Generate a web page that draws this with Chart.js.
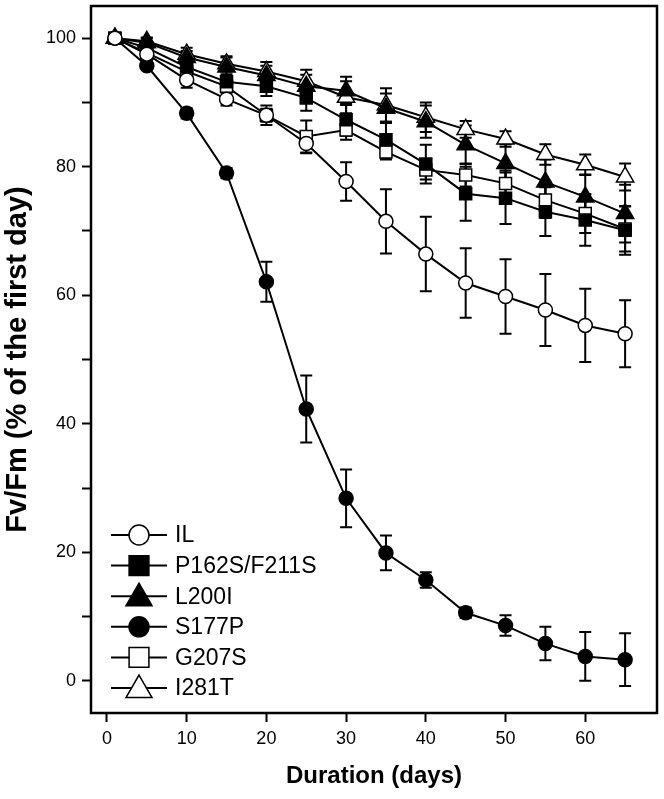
<!DOCTYPE html>
<html lang="en">
<head>
    <meta charset="UTF-8">
    <script src="https://cdn.jsdelivr.net/npm/chart.js"></script>
    <title>Fv/Fm</title>
    <style>
        body { margin: 0; background: #fff; }
        canvas { display: block; }
    </style>
</head>
<body>
    <canvas id="lineChart" width="664" height="799"></canvas>

    <script>
        // sampling days
        const days = [1, 5, 10, 15, 20, 25, 30, 35, 40, 45, 50, 55, 60, 65];

        // mean values (% of the first day) and error bars
        const ilMean = [100, 97.5, 93.5, 90.5, 88.0, 83.6, 77.7, 71.5, 66.4, 61.9, 59.8, 57.7, 55.3, 54.0];
        const ilErr  = [0, 1, 1.2, 1, 1, 1.5, 3, 5, 5.8, 5.4, 5.8, 5.6, 5.7, 5.2];

        const p162Mean = [100, 98.5, 95.5, 93.2, 92.5, 90.7, 87.3, 84.2, 80.4, 75.8, 75.1, 73.0, 71.7, 70.1];
        const p162Err  = [0, 0.8, 1, 1.2, 1.5, 2, 2.5, 2.8, 3, 4.2, 4, 3.8, 4, 3.8];

        const l200Mean = [100, 99.3, 97.0, 95.5, 94.2, 92.5, 91.8, 89.1, 87.0, 83.4, 80.5, 77.6, 75.3, 72.7];
        const l200Err  = [0, 0.8, 1, 1.5, 1.5, 1.8, 2.2, 2.3, 2.5, 3, 3, 3.5, 3.5, 4.5];

        const s177Mean = [100, 95.7, 88.3, 79.0, 62.1, 42.3, 28.4, 19.9, 15.7, 10.6, 8.6, 5.8, 3.8, 3.3];
        const s177Err  = [0, 0.5, 0.8, 0.8, 3.1, 5.2, 4.5, 2.7, 1.2, 0.8, 1.6, 2.6, 3.8, 4.1];

        const g207Mean = [100, 97.7, 94.8, 92.5, 88.0, 84.7, 85.7, 82.3, 79.5, 78.7, 77.4, 74.8, 72.7, 70.3];
        const g207Err  = [0, 1, 1.2, 1.5, 1.5, 2.5, 1.5, 1.2, 1.5, 1.8, 2, 2.8, 3, 3.5];

        const i281Mean = [100, 99.5, 97.5, 96.0, 94.8, 93.3, 90.8, 89.6, 87.7, 85.8, 84.3, 81.9, 80.3, 78.4];
        const i281Err  = [0, 0.5, 1, 1.2, 1.5, 1.8, 2.5, 2.6, 2.3, 1.3, 1.2, 1.6, 1.6, 2.1];

        const xTicks = [0, 10, 20, 30, 40, 50, 60];
        const yTicks = [0, 10, 20, 30, 40, 50, 60, 70, 80, 90, 100];

        const FONT = 'Arial, "Liberation Sans", sans-serif';
        Chart.defaults.font.family = FONT;
        Chart.defaults.color = '#000';

        // legend marker size per point style
        const legendRadius = { circle: 10, rect: 14, triangle: 15 };

        function series(label, mean, err, style, radius, fill) {
            return {
                label: label,
                data: days.map((d, i) => ({ x: d, y: mean[i] })),
                err: err,
                borderColor: '#000',
                borderWidth: 2,
                pointStyle: style,
                pointRadius: radius,
                pointHoverRadius: radius,
                pointBackgroundColor: fill,
                pointBorderColor: '#000',
                pointBorderWidth: 1.5,
                tension: 0,
                fill: false,
                clip: false
            };
        }

        const datasets = [
            series('IL', ilMean, ilErr, 'circle', 7, '#fff'),
            series('P162S/F211S', p162Mean, p162Err, 'rect', 8.5, '#000'),
            series('L200I', l200Mean, l200Err, 'triangle', 10, '#000'),
            series('S177P', s177Mean, s177Err, 'circle', 7, '#000'),
            series('G207S', g207Mean, g207Err, 'rect', 8.5, '#fff'),
            series('I281T', i281Mean, i281Err, 'triangle', 10, '#fff')
        ];

        // error bars under the markers
        const errorBars = {
            id: 'errorBars',
            beforeDatasetsDraw(chart) {
                const ctx = chart.ctx;
                const yScale = chart.scales.y;
                ctx.save();
                ctx.strokeStyle = '#000';
                ctx.lineWidth = 2;
                chart.data.datasets.forEach((ds, i) => {
                    const meta = chart.getDatasetMeta(i);
                    meta.data.forEach((pt, j) => {
                        const e = ds.err[j];
                        if (!e) return;
                        const v = ds.data[j].y;
                        const top = yScale.getPixelForValue(v + e);
                        const bot = yScale.getPixelForValue(v - e);
                        ctx.beginPath();
                        ctx.moveTo(pt.x, top); ctx.lineTo(pt.x, bot);
                        ctx.moveTo(pt.x - 6, top); ctx.lineTo(pt.x + 6, top);
                        ctx.moveTo(pt.x - 6, bot); ctx.lineTo(pt.x + 6, bot);
                        ctx.stroke();
                    });
                });
                ctx.restore();
            }
        };

        // box round the plot and the legend inside it
        const frameAndLegend = {
            id: 'frameAndLegend',
            afterDraw(chart) {
                const ctx = chart.ctx;
                const a = chart.chartArea;
                ctx.save();
                ctx.strokeStyle = '#000';
                ctx.lineWidth = 2.5;
                ctx.strokeRect(a.left, a.top, a.right - a.left, a.bottom - a.top);

                const n = chart.data.datasets.length;
                chart.data.datasets.forEach((ds, i) => {
                    const y = a.bottom - 25 - (n - 1 - i) * 30.6;
                    ctx.strokeStyle = '#000';
                    ctx.lineWidth = 2;
                    ctx.beginPath();
                    ctx.moveTo(a.left + 20, y);
                    ctx.lineTo(a.left + 76, y);
                    ctx.stroke();
                    ctx.fillStyle = ds.pointBackgroundColor;
                    ctx.lineWidth = 1.5;
                    const r = legendRadius[ds.pointStyle];
                    Chart.helpers.drawPoint(ctx, {
                        pointStyle: ds.pointStyle,
                        radius: r,
                        borderWidth: 1.5,
                        rotation: 0
                    }, a.left + 48, ds.pointStyle === 'triangle' ? y + 2 : y);
                    ctx.fillStyle = '#000';
                    ctx.font = '23px ' + FONT;
                    ctx.textBaseline = 'middle';
                    ctx.fillText(ds.label, a.left + 84, y + 1);
                });
                ctx.restore();
            }
        };

        const config = {
            type: 'line',
            data: { datasets: datasets },
            options: {
                responsive: false,
                animation: false,
                devicePixelRatio: 1,
                layout: { autoPadding: false, padding: { top: 6, right: 7, left: 0, bottom: 0 } },
                plugins: {
                    legend: { display: false },
                    tooltip: { enabled: false }
                },
                scales: {
                    x: {
                        type: 'linear',
                        min: -2,
                        max: 69,
                        afterBuildTicks: s => { s.ticks = xTicks.map(v => ({ value: v })); },
                        afterFit: s => { s.height = 86; s.paddingLeft = 0; s.paddingRight = 0; },
                        ticks: { font: { size: 18 }, padding: 6, maxRotation: 0 },
                        grid: { drawOnChartArea: false, drawTicks: true, tickLength: 9, tickWidth: 2, color: '#000' },
                        border: { display: false },
                        title: {
                            display: true,
                            text: 'Duration (days)',
                            font: { size: 24, weight: 'bold' },
                            padding: { top: 0, bottom: 8 }
                        }
                    },
                    y: {
                        min: -5,
                        max: 105,
                        afterBuildTicks: s => { s.ticks = yTicks.map(v => ({ value: v })); },
                        afterFit: s => { s.width = 91; s.paddingTop = 0; s.paddingBottom = 0; },
                        ticks: {
                            font: { size: 18 },
                            padding: 6,
                            callback: v => (v % 20 === 0 ? v : '')
                        },
                        grid: { drawOnChartArea: false, drawTicks: true, tickLength: 9, tickWidth: 2, color: '#000' },
                        border: { display: false },
                        title: {
                            display: true,
                            text: 'Fv/Fm (% of the first day)',
                            font: { size: 29, weight: 'bold' },
                            padding: { top: 1, bottom: 0 }
                        }
                    }
                }
            },
            plugins: [errorBars, frameAndLegend]
        };

        const ctx = document.getElementById('lineChart').getContext('2d');
        new Chart(ctx, config);
    </script>
</body>
</html>
